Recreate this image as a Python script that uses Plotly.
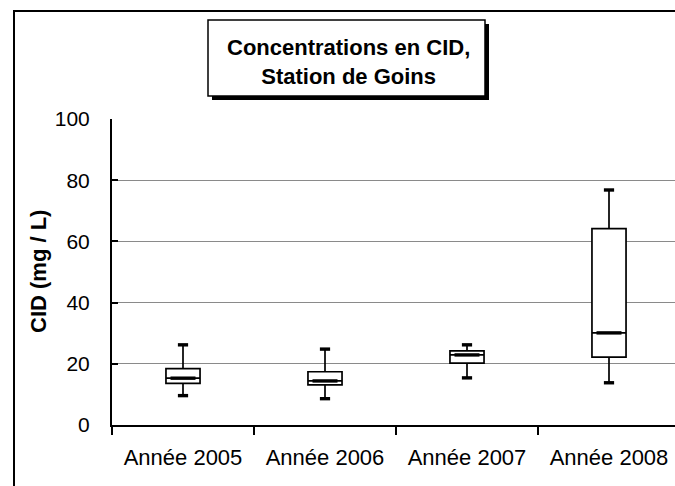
import plotly.graph_objects as go

# Dissolved inorganic carbon (CID) at the Goins station, per year
years = ["Année 2005", "Année 2006", "Année 2007", "Année 2008"]
low = [9.6, 8.6, 15.4, 13.8]
q1 = [13.6, 13.1, 20.2, 22.2]
median = [15.3, 14.4, 22.9, 30.1]
q3 = [18.4, 17.4, 24.2, 64.2]
high = [26.2, 24.8, 26.2, 76.8]
y_ticks = [0, 20, 40, 60, 80, 100]

W, H = 675, 486
L, R, T, B = 112, 0, 119, 61
FONT = "Liberation Sans, Arial, sans-serif"


def px_x(p):
    return (p - L) / (W - L - R)


def px_y(p):
    return (H - B - p) / (H - T - B)


xpos = list(range(len(years)))
fig = go.Figure()

for i in xpos:
    fig.add_trace(go.Box(
        x=[i], q1=[q1[i]], median=[median[i]], q3=[q3[i]],
        lowerfence=[low[i]], upperfence=[high[i]],
        width=0.24, whiskerwidth=0, fillcolor="white",
        line=dict(color="black", width=1.7), boxpoints=False,
        hoverinfo="skip", showlegend=False,
    ))

# thick median bars and whisker caps
mx, my, cx, cy = [], [], [], []
for i in xpos:
    mx += [i - 0.088, i + 0.088, None]
    my += [median[i], median[i], None]
    for v in (low[i], high[i]):
        cx += [i - 0.036, i + 0.036, None]
        cy += [v, v, None]
fig.add_trace(go.Scatter(x=mx, y=my, mode="lines", line=dict(color="black", width=3.4),
                         hoverinfo="skip", showlegend=False))
fig.add_trace(go.Scatter(x=cx, y=cy, mode="lines", line=dict(color="black", width=3.4),
                         hoverinfo="skip", showlegend=False))

shapes = [
    # chart-area border
    dict(type="rect", xref="paper", yref="paper",
         x0=px_x(14), x1=px_x(W + 20), y0=px_y(H + 20), y1=px_y(11),
         line=dict(color="black", width=2), fillcolor="rgba(0,0,0,0)", layer="below"),
    # title box shadow
    dict(type="rect", xref="paper", yref="paper",
         x0=px_x(212), x1=px_x(489), y0=px_y(100), y1=px_y(24),
         line=dict(width=0), fillcolor="black"),
    # title box
    dict(type="rect", xref="paper", yref="paper",
         x0=px_x(208), x1=px_x(485), y0=px_y(96), y1=px_y(20),
         line=dict(color="black", width=1.5), fillcolor="white"),
]

fig.update_layout(
    width=W, height=H,
    margin=dict(l=L, r=R, t=T, b=B),
    paper_bgcolor="white", plot_bgcolor="white",
    font=dict(family=FONT, color="black"),
    shapes=shapes,
    annotations=[
        dict(text="<b>Concentrations en CID,<br>Station de Goins</b>",
             xref="paper", yref="paper", x=px_x(348), y=px_y(62),
             xanchor="center", yanchor="middle",
             showarrow=False, font=dict(size=22, family=FONT), align="center"),
        dict(text="<b>CID (mg / L)</b>", textangle=-90,
             xref="paper", yref="paper", x=px_x(38), y=px_y(272),
             xanchor="center", yanchor="middle",
             showarrow=False, font=dict(size=22, family=FONT)),
    ],
    xaxis=dict(
        range=[-0.5, (W - L) / 142 - 0.5],
        tickvals=xpos, ticktext=years, ticks="", ticklen=0,
        tickfont=dict(size=22, family=FONT),
        showgrid=False, zeroline=False,
        showline=True, linecolor="black", linewidth=2,
        ticklabelstandoff=12,
        minor=dict(tickvals=[-0.5, 0.5, 1.5, 2.5, 3.5], ticks="outside",
                   ticklen=8, tickwidth=2, tickcolor="black", showgrid=False),
    ),
    yaxis=dict(
        range=[0, 100], tickvals=y_ticks,
        ticks="inside", ticklen=6, tickwidth=2, tickcolor="black",
        tickfont=dict(size=21, family=FONT),
        showgrid=True, gridcolor="#8a8a8a", gridwidth=1.2,
        zeroline=False, showline=True, linecolor="black", linewidth=2,
        ticklabelstandoff=16,
    ),
)

fig.write_html("out.html")
